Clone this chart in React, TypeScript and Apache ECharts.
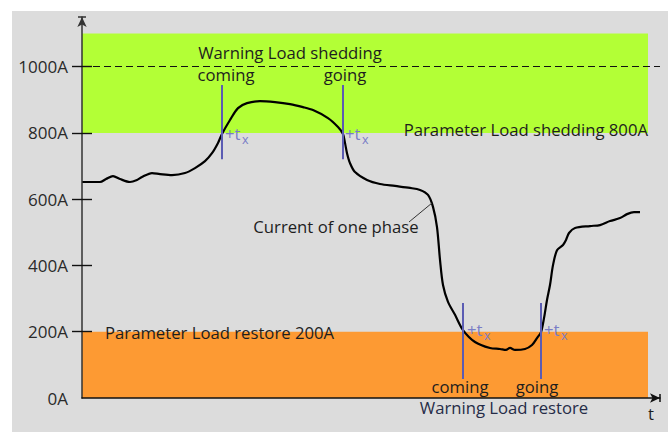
import React, { useEffect, useRef } from "react";
import * as echarts from "echarts";

// time axis (arbitrary units), current in A
const timeValues = [0,18,24,31,38,48,55,60,70,78,90,103,113,123,130,136,140,148,156,165,178,193,208,221,231,246,256,261,263,265,268,273,285,298,313,328,338,346,351,355,358,361,366,373,381,393,408,418,424,428,433,443,450,455,459,462,465,468,471,475,481,484,487,493,508,518,528,538,545,552,558];
const currentValues = [652,652,661,670,661,652,658,667,679,676,673,679,694,715,739,770,797,839,875,890,896,893,887,878,869,845,818,797,770,739,709,682,658,646,640,634,628,613,577,516,417,341,290,251,205,169,151,148,145,151,145,148,160,181,199,241,296,341,401,446,462,477,498,513,519,522,534,543,555,561,561];

const yTickLabels = [0, 200, 400, 600, 800, 1000];
const yTicks = [200, 400, 600, 800, 1000];
const sheddingBand = [800, 1100];
const restoreBand = [0, 200];
const bandEnd = 566;
const warningLevel = 1000;
const sheddingMarkers = [140, 261];
const sheddingMarkerRange = [721, 945];
const restoreMarkers = [381, 459];
const restoreMarkerRange = [57, 287];

const FONT = "'Open Sans', 'DejaVu Sans', sans-serif";
const FS = 16.7;
const TXT = "#1e1e1e";
const MARK = "#5b5cb3";
const TX = "#7a7cc6";

export default function App() {
  const ref = useRef<HTMLDivElement>(null);
  useEffect(() => {
    if (!ref.current) return;
    const chart = echarts.init(ref.current, null, { renderer: "svg" });
    const curve = timeValues.map((t, i) => [t, currentValues[i]]);
    const markerLines = [
      ...sheddingMarkers.map((t) => [
        { coord: [t, sheddingMarkerRange[0]] },
        { coord: [t, sheddingMarkerRange[1]] },
      ]),
      ...restoreMarkers.map((t) => [
        { coord: [t, restoreMarkerRange[0]] },
        { coord: [t, restoreMarkerRange[1]] },
      ]),
    ];
    const text = (x: number, y: number, s: string, align: string, extra: any = {}) => ({
      type: "text",
      x,
      y,
      z: 100,
      style: {
        text: s,
        fill: TXT,
        font: `${FS}px ${FONT}`,
        align,
        verticalAlign: "middle",
        ...extra,
      },
    });
    const tx = (x: number, y: number) => [
      { type: "text", x, y, z: 100, style: { text: "+t", fill: TX, font: `${FS}px ${FONT}`, align: "left", verticalAlign: "middle" } },
      { type: "text", x: x + 17, y: y + 6, z: 100, style: { text: "x", fill: TX, font: `12.5px ${FONT}`, align: "left", verticalAlign: "middle" } },
    ];
    chart.setOption({
      animation: false,
      grid: { left: 82, right: 8, top: 17, bottom: 34 },
      xAxis: {
        type: "value",
        min: 0,
        max: 578,
        z: 10,
        splitLine: { show: false },
        axisLabel: { show: false },
        axisTick: { show: false },
        axisLine: {
          show: true,
          onZero: false,
          symbol: ["none", "arrow"],
          symbolSize: [7, 10],
          lineStyle: { color: "#111", width: 1.5 },
        },
      },
      yAxis: [
        {
          type: "value",
          min: 0,
          max: 1150,
          z: 10,
          splitLine: { show: false },
          axisLine: {
            show: true,
            symbol: ["none", "arrow"],
            symbolSize: [7, 10],
            lineStyle: { color: "#333", width: 1.5 },
          },
          axisTick: { show: true, length: 10, customValues: yTicks, lineStyle: { color: "#111", width: 1.4 } },
          axisLabel: {
            customValues: yTickLabels,
            formatter: (v: number) => `${v}A`,
            margin: 14,
            color: "#2a2a2a",
            fontFamily: FONT,
            fontSize: 17,
          },
        },
        {
          type: "value",
          min: 0,
          max: 1150,
          z: 10,
          position: "left",
          splitLine: { show: false },
          axisLine: { show: false },
          axisLabel: { show: false },
          axisTick: { show: true, inside: true, length: 10, customValues: yTicks, lineStyle: { color: "#111", width: 1.4 } },
        },
      ],
      graphic: [
        { type: "rect", z: -10, shape: { x: 12, y: 11, width: 656, height: 421 }, style: { fill: "#dcdcdc" } },
        { type: "line", z: 20, shape: { x1: 78, y1: 17, x2: 86, y2: 17 }, style: { stroke: "#333", lineWidth: 1.5 } },
        { type: "line", z: 20, shape: { x1: 660, y1: 394, x2: 660, y2: 402 }, style: { stroke: "#111", lineWidth: 1.5 } },
        { type: "line", z: 20, shape: { x1: 409, y1: 222, x2: 432, y2: 203 }, style: { stroke: "#333", lineWidth: 1 } },
        text(290, 52, "Warning Load shedding", "center"),
        text(226, 74, "coming", "center"),
        text(345, 74, "going", "center"),
        text(648, 129, "Parameter Load shedding 800A", "right"),
        text(336, 226, "Current of one phase", "center"),
        text(105, 332, "Parameter Load restore 200A", "left"),
        text(460, 386, "coming", "center"),
        text(537, 386, "going", "center"),
        text(504, 407, "Warning Load restore", "center", { fill: "#262c48" }),
        text(651, 413, "t", "center"),
        ...tx(225, 133),
        ...tx(345, 133),
        ...tx(467, 329),
        ...tx(544, 329),
      ],
      series: [
        {
          type: "line",
          data: [],
          z: 1,
          silent: true,
          markArea: {
            silent: true,
            data: [
              [
                { coord: [0, sheddingBand[0]], itemStyle: { color: "#b3ff36", opacity: 1 } },
                { coord: [bandEnd, sheddingBand[1]] },
              ],
              [
                { coord: [0, restoreBand[0]], itemStyle: { color: "#fd9a33", opacity: 1 } },
                { coord: [bandEnd, restoreBand[1]] },
              ],
            ],
          },
          markLine: {
            silent: true,
            symbol: ["none", "none"],
            label: { show: false },
            lineStyle: { color: "#111", width: 1, type: [7, 4] },
            data: [[{ coord: [0, warningLevel] }, { coord: [578, warningLevel] }]],
          },
        },
        {
          type: "line",
          data: curve,
          z: 3,
          showSymbol: false,
          smooth: 0.3,
          silent: true,
          lineStyle: { color: "#000", width: 2.2 },
        },
        {
          type: "line",
          data: [],
          z: 4,
          silent: true,
          markLine: {
            silent: true,
            symbol: ["none", "none"],
            label: { show: false },
            lineStyle: { color: MARK, width: 2, type: "solid" },
            data: markerLines,
          },
        },
      ],
    });
    return () => chart.dispose();
  }, []);
  return (
    <div
      ref={ref}
      style={{ position: "fixed", left: 0, top: 0, width: 668, height: 432, background: "#fff" }}
    />
  );
}
